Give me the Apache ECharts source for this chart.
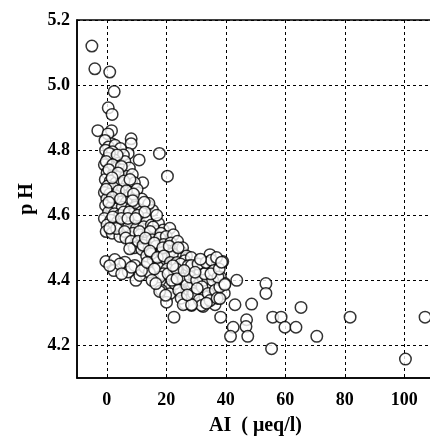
<!DOCTYPE html>
<html>
<head>
<meta charset="utf-8">
<script src="https://cdn.jsdelivr.net/npm/echarts@6.0.0/dist/echarts.min.js"></script>
<style>
    html, body { margin: 0; padding: 0; background: #fff; }
    #container { width: 430px; height: 439px; }
</style>
</head>
<body>
<div id="container"></div>
<script>
    // tick values
    var xTicks = [0, 20, 40, 60, 80, 100];
    var yTicks = [4.2, 4.4, 4.6, 4.8, 5.0, 5.2];

    // samples: [AI (ueq/l), pH]
    var highPoints = [
        [-5, 5.12], [-4, 5.05], [1, 5.04], [2.5, 4.98], [0.5, 4.93], [1.8, 4.91], [-3, 4.86], [1.6, 4.86],
        [0.4, 4.85], [8.2, 4.835], [8.2, 4.82], [1.6, 4.82], [17.7, 4.79], [10.9, 4.77], [20.4, 4.72],
        [12.1, 4.70], [4.1, 4.79], [7.2, 4.79]
    ];
    var columnPoints = [
        [-0.6, 4.83], [0.6, 4.81], [2.8, 4.815], [4.6, 4.805], [-0.4, 4.80], [1.9, 4.795], [5.6, 4.785],
        [0.3, 4.775], [2.6, 4.77], [3.9, 4.76], [6.1, 4.765], [-0.8, 4.755], [1.4, 4.75], [3.2, 4.745],
        [5.1, 4.74], [7.6, 4.745], [0.1, 4.73], [2.1, 4.725], [4.3, 4.72], [6.4, 4.72], [8.6, 4.725],
        [-0.5, 4.71], [1.2, 4.705], [3.1, 4.70], [4.7, 4.70], [6.9, 4.695], [9.3, 4.70], [0.3, 4.69],
        [2.2, 4.685], [5.3, 4.68], [8.3, 4.67], [10.2, 4.68], [-0.8, 4.67], [1.0, 4.665], [3.0, 4.66],
        [5.9, 4.66], [7.4, 4.655], [0.0, 4.65], [2.4, 4.645], [3.8, 4.646], [6.6, 4.64], [10.3, 4.638],
        [11.8, 4.65], [-0.4, 4.63], [1.6, 4.625], [3.4, 4.62], [5.2, 4.625], [8.0, 4.62], [9.6, 4.625],
        [13.9, 4.63], [0.6, 4.61], [2.6, 4.605], [4.4, 4.60], [6.8, 4.60], [9.0, 4.605], [11.6, 4.61],
        [15.4, 4.615], [-0.8, 4.59], [1.4, 4.585], [3.6, 4.58], [6.0, 4.58], [8.4, 4.585], [10.8, 4.58],
        [13.2, 4.59], [14.2, 4.636], [0.1, 4.57], [2.4, 4.565], [4.8, 4.56], [7.3, 4.565], [10.0, 4.56],
        [12.4, 4.565], [15.0, 4.57], [17.4, 4.575], [-0.2, 4.55], [1.8, 4.545], [4.4, 4.535], [8.8, 4.545],
        [11.3, 4.54], [13.8, 4.545], [16.4, 4.55], [19.0, 4.555], [21.2, 4.56], [3.3, 4.559], [15.6, 4.564],
        [0.9, 4.79], [3.5, 4.785], [-0.2, 4.765], [2.0, 4.755], [4.9, 4.75], [0.7, 4.74], [3.8, 4.73],
        [5.8, 4.705], [1.8, 4.715], [7.8, 4.71], [-0.2, 4.68], [4.0, 4.675], [6.6, 4.675], [9.0, 4.665],
        [1.9, 4.655], [4.6, 4.65], [8.7, 4.645], [12.6, 4.64], [0.7, 4.64], [5.7, 4.61], [7.6, 4.61],
        [10.4, 4.60], [12.8, 4.61], [2.0, 4.595], [4.9, 4.59], [7.1, 4.59], [9.7, 4.59], [16.8, 4.60],
        [1.0, 4.56], [6.0, 4.55], [11.0, 4.55], [14.6, 4.55], [18.2, 4.545], [6.4, 4.53], [8.2, 4.52],
        [10.5, 4.505]
    ];
    var bandPoints = [
        [9.2, 4.50], [10.6, 4.52], [12.9, 4.515], [15.3, 4.525], [17.8, 4.53], [20.0, 4.535], [22.4, 4.54],
        [11.8, 4.495], [14.2, 4.50], [16.6, 4.505], [19.1, 4.51], [21.5, 4.515], [23.8, 4.52], [13.4, 4.475],
        [15.8, 4.48], [18.3, 4.485], [20.7, 4.49], [23.1, 4.495], [25.1, 4.487], [25.5, 4.50], [15.6, 4.462],
        [17.1, 4.455], [19.6, 4.465], [22.0, 4.47], [24.4, 4.47], [26.8, 4.475], [7.7, 4.497], [12.2, 4.508],
        [15.0, 4.482], [22.1, 4.482], [17.3, 4.44], [22.3, 4.44], [25.1, 4.42], [21.8, 4.398], [25.1, 4.364],
        [28.5, 4.385], [31.3, 4.43], [34.1, 4.385], [13.0, 4.53], [16.0, 4.515], [18.8, 4.50], [21.0, 4.505],
        [24.0, 4.50], [14.5, 4.49], [17.0, 4.47], [19.2, 4.475], [21.4, 4.455], [23.6, 4.455], [26.2, 4.46],
        [28.4, 4.47], [20.3, 4.435], [24.8, 4.45], [27.6, 4.43], [19.0, 4.42], [23.1, 4.42], [26.5, 4.40],
        [29.0, 4.39], [32.5, 4.40], [30.8, 4.355], [33.0, 4.35], [36.0, 4.35], [23.2, 4.375], [27.8, 4.34],
        [21.0, 4.38], [35.8, 4.45], [38.2, 4.41], [39.5, 4.36], [36.4, 4.325]
    ];
    var lowRowPoints = [
        [-0.3, 4.458], [2.7, 4.464], [2.4, 4.43], [6.1, 4.456], [7.2, 4.426], [9.4, 4.446], [9.8, 4.40],
        [11.1, 4.415], [12.8, 4.44], [14.3, 4.425], [17.8, 4.41], [18.4, 4.369], [21.2, 4.359], [22.9, 4.39],
        [25.7, 4.405], [17.8, 4.366], [20.1, 4.333], [19.8, 4.354], [26.3, 4.328], [28.5, 4.323], [32.4, 4.32],
        [34.7, 4.479], [4.4, 4.45], [1.0, 4.445], [8.3, 4.44], [11.7, 4.43], [5.0, 4.42], [13.6, 4.455],
        [16.0, 4.435], [15.2, 4.40], [16.5, 4.39]
    ];
    var clusterPoints = [
        [20.6, 4.42], [21.9, 4.40], [23.4, 4.435], [24.2, 4.37], [25.0, 4.345], [26.9, 4.385], [27.4, 4.445],
        [28.5, 4.446], [28.0, 4.41], [29.2, 4.36], [30.7, 4.45], [30.2, 4.40], [31.1, 4.34], [31.9, 4.323],
        [32.0, 4.38], [32.9, 4.42], [33.4, 4.455], [34.1, 4.36], [34.7, 4.338], [35.2, 4.462], [35.6, 4.40],
        [36.0, 4.43], [36.5, 4.37], [37.1, 4.345], [38.0, 4.344], [38.0, 4.38], [38.6, 4.456], [39.0, 4.458],
        [39.7, 4.39], [37.4, 4.41], [25.7, 4.325], [28.5, 4.325], [30.4, 4.375], [27.1, 4.355], [23.6, 4.405],
        [22.2, 4.445], [36.9, 4.47], [33.5, 4.33], [29.7, 4.425], [26.0, 4.43], [31.5, 4.465], [35.0, 4.42],
        [37.8, 4.435]
    ];
    var sparsePoints = [
        [22.6, 4.287], [38.3, 4.287], [43.7, 4.40], [53.5, 4.39], [53.5, 4.36], [43.1, 4.325], [48.7, 4.327],
        [65.3, 4.317], [47, 4.279], [55.8, 4.287], [58.6, 4.287], [81.8, 4.287], [107, 4.287], [42.5, 4.256],
        [46.8, 4.258], [59.9, 4.256], [63.6, 4.256], [41.6, 4.228], [47.4, 4.228], [70.6, 4.228], [55.4, 4.19],
        [100.4, 4.158], [39.7, 4.387], [38.6, 4.456]
    ];

    var points = highPoints.concat(columnPoints, bandPoints, lowRowPoints, clusterPoints, sparsePoints);

    var font = 'Liberation Serif';
    var dashed = { show: true, lineStyle: { color: '#000', width: 1, type: [3, 3] } };

    var option = {
        animation: false,
        backgroundColor: '#fff',
        grid: {
            left: 77, top: 20, right: -4, bottom: 61,
            outerBoundsMode: 'none',
            containLabel: false,
            show: true, borderColor: '#000', borderWidth: 1.5
        },
        xAxis: {
            type: 'value',
            min: -10,
            max: 110,
            name: 'AI  ( \u03bceq/l)',
            nameLocation: 'middle',
            nameGap: 38,
            nameTextStyle: { fontFamily: font, fontWeight: 'bold', fontSize: 20, color: '#000' },
            axisLine: { show: true, onZero: false, lineStyle: { color: '#000', width: 1.5 } },
            axisTick: { show: true, inside: true, length: 4, customValues: xTicks, lineStyle: { color: '#000' } },
            axisLabel: {
                customValues: xTicks, margin: 13,
                fontFamily: font, fontWeight: 'bold', fontSize: 18, color: '#000'
            },
            splitLine: dashed
        },
        yAxis: {
            type: 'value',
            min: 4.1,
            max: 5.2,
            name: 'p H',
            nameLocation: 'middle',
            nameGap: 36,
            nameRotate: 90,
            nameTextStyle: { fontFamily: font, fontWeight: 'bold', fontSize: 20, color: '#000' },
            axisLine: { show: true, onZero: false, lineStyle: { color: '#000', width: 1.5 } },
            axisTick: { show: false, customValues: yTicks },
            axisLabel: {
                customValues: yTicks, margin: 7,
                fontFamily: font, fontWeight: 'bold', fontSize: 18, color: '#000',
                formatter: function (v) { return v.toFixed(1); }
            },
            splitLine: dashed
        },
        series: [{
            type: 'scatter',
            data: points,
            symbol: 'circle',
            symbolSize: 11.5,
            itemStyle: { color: '#fff', borderColor: '#000', borderWidth: 1.5 }
        }]
    };
    echarts.init(document.getElementById('container')).setOption(option);
</script>
</body>
</html>
